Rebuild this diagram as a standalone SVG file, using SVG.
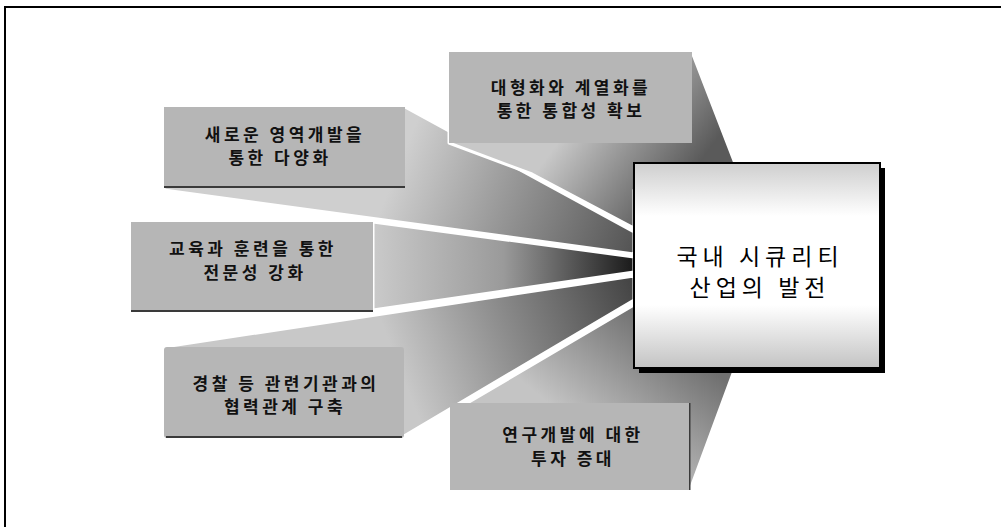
<svg xmlns="http://www.w3.org/2000/svg" width="1001" height="527" viewBox="0 0 1001 527">
<style>
.frame{stroke:#000;stroke-width:2;fill:none}
.fan{stroke:#fff;stroke-width:3;stroke-linejoin:round}
.box{fill:#b6b6b6}
.edge{fill:#3a3a3a}
.lbl{font-family:"Noto Sans CJK KR","Noto Sans CJK SC",sans-serif;font-size:17px;font-weight:bold;letter-spacing:3.5px;fill:#111;text-anchor:middle}
.main{font-family:"Noto Sans CJK KR","Noto Sans CJK SC",sans-serif;font-size:23px;letter-spacing:5px;fill:#000;text-anchor:middle}
</style>
<defs>
<linearGradient id="g1" gradientUnits="userSpaceOnUse" x1="405" y1="150" x2="634" y2="243"><stop offset="0" stop-color="#cfcfcf"/><stop offset="1" stop-color="#555"/></linearGradient>
<linearGradient id="g2" gradientUnits="userSpaceOnUse" x1="560" y1="140" x2="660" y2="215"><stop offset="0" stop-color="#c8c8c8"/><stop offset="1" stop-color="#5a5a5a"/></linearGradient>
<linearGradient id="g3" gradientUnits="userSpaceOnUse" x1="373" y1="266" x2="634" y2="265"><stop offset="0" stop-color="#cacaca"/><stop offset="0.5" stop-color="#9a9a9a"/><stop offset="1" stop-color="#1a1a1a"/></linearGradient>
<linearGradient id="g4" gradientUnits="userSpaceOnUse" x1="404" y1="380" x2="634" y2="290"><stop offset="0" stop-color="#c8c8c8"/><stop offset="1" stop-color="#454545"/></linearGradient>
<linearGradient id="g5" gradientUnits="userSpaceOnUse" x1="570" y1="420" x2="650" y2="320"><stop offset="0" stop-color="#c4c4c4"/><stop offset="1" stop-color="#707070"/></linearGradient>
<linearGradient id="topband" x1="0" y1="0" x2="0" y2="1"><stop offset="0" stop-color="#cfcfcf"/><stop offset="1" stop-color="#fff"/></linearGradient>
<linearGradient id="botband" x1="0" y1="0" x2="0" y2="1"><stop offset="0" stop-color="#fff"/><stop offset="1" stop-color="#c4c4c4"/></linearGradient>
</defs>
<rect width="1001" height="527" fill="#fff"/>
<path class="frame" d="M5,527 V7 H1001"/>
<g id="connectors">
<polygon class="fan" fill="url(#g1)" points="405,107 634,232 634,254 164,190 164,107"/>
<polygon class="fan" fill="url(#g2)" points="449,143 532,174 634,228 634,190 736,166 692,52 449,52"/>
<polygon class="fan" fill="url(#g3)" points="373,222 634,257 634,272 373,310"/>
<polygon class="fan" fill="url(#g4)" points="164,347 634,276 634,300 404,436"/>
<polygon class="fan" fill="url(#g5)" points="452,412 634,305 700,340 735,368 690,490 452,490"/>
</g>
<g id="n1">
<rect class="box" x="164" y="107" width="241" height="81"/>
<rect class="edge" x="164" y="186" width="241" height="2"/>
<text class="lbl"><tspan x="285" y="141">새로운 영역개발을</tspan><tspan x="280" y="164">통한 다양화</tspan></text>
</g>
<g id="n2">
<rect class="box" x="449" y="52" width="243" height="91"/>
<text class="lbl"><tspan x="571" y="94">대형화와 계열화를</tspan><tspan x="571" y="117">통한 통합성 확보</tspan></text>
</g>
<g id="n3">
<rect class="box" x="131" y="222" width="242" height="90"/>
<rect class="edge" x="131" y="310" width="242" height="2"/>
<text class="lbl"><tspan x="253" y="255">교육과 훈련을 통한</tspan><tspan x="255" y="279">전문성 강화</tspan></text>
</g>
<g id="n4">
<rect class="box" x="164" y="347" width="240" height="91" rx="3"/>
<rect class="edge" x="166" y="436" width="236" height="2"/>
<text class="lbl"><tspan x="286" y="390">경찰 등 관련기관과의</tspan><tspan x="285" y="413">협력관계 구축</tspan></text>
</g>
<g id="n5">
<rect class="box" x="450" y="403" width="240" height="87"/>
<rect class="edge" x="689" y="403" width="1.5" height="87"/>
<text class="lbl"><tspan x="573" y="441">연구개발에 대한</tspan><tspan x="573" y="465">투자 증대</tspan></text>
</g>
<g id="center">
<rect x="639" y="168" width="246" height="205" fill="#000"/>
<rect x="634" y="163" width="246" height="205" fill="#fff"/>
<rect x="635" y="164" width="244" height="52" fill="url(#topband)"/>
<rect x="635" y="305" width="244" height="62" fill="url(#botband)"/>
<rect x="634" y="163" width="246" height="205" fill="none" stroke="#000" stroke-width="2"/>
<text class="main"><tspan x="760" y="265">국내 시큐리티</tspan><tspan x="760" y="296">산업의 발전</tspan></text>
</g>
</svg>
